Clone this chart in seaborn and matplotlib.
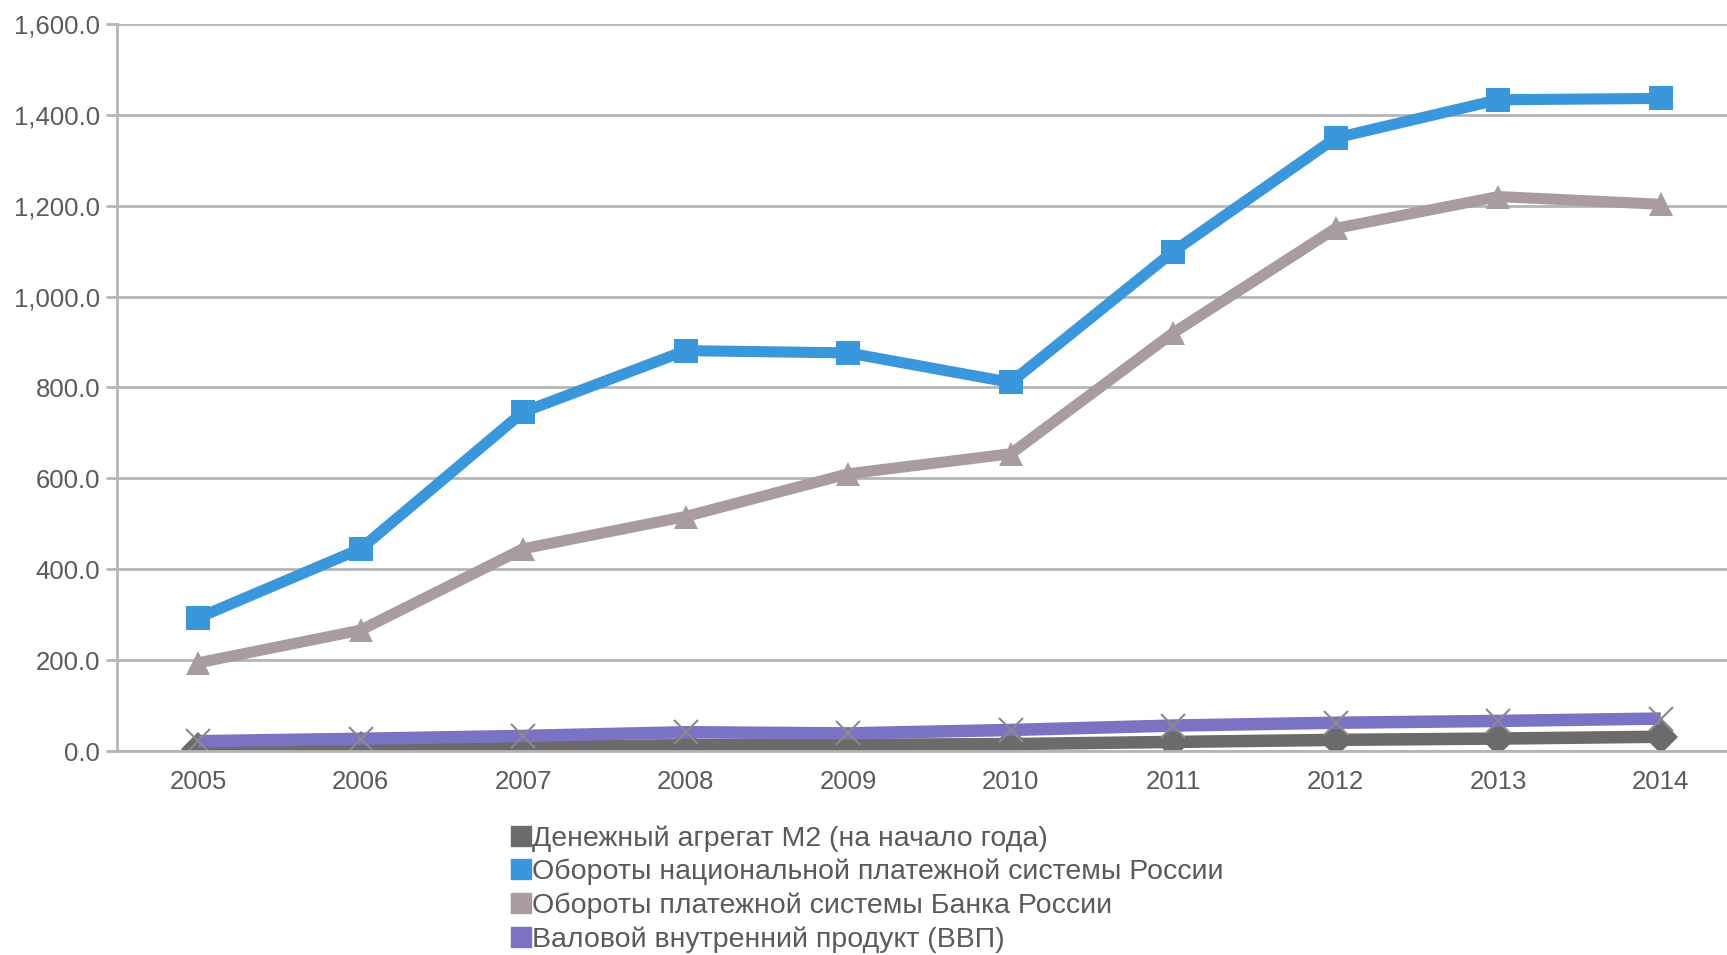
import numpy as np
import pandas as pd
import seaborn as sns
import matplotlib.pyplot as plt
from matplotlib.lines import Line2D

# data
years = ["2005", "2006", "2007", "2008", "2009", "2010", "2011", "2012", "2013", "2014"]
m2 = [4.4, 6.0, 9.0, 12.9, 13.5, 15.3, 20.0, 24.5, 27.4, 31.4]
nps = [293, 445, 746, 881, 876, 811, 1099, 1349, 1433, 1436]
cbr = [194, 266, 445, 516, 610, 654, 920, 1150, 1220, 1203]
gdp = [21.6, 26.9, 33.2, 41.3, 38.8, 46.3, 56.0, 62.2, 66.2, 71.4]

names = ["Денежный агрегат М2 (на начало года)",
         "Обороты национальной платежной системы России",
         "Обороты платежной системы Банка России",
         "Валовой внутренний продукт (ВВП)"]
colors = ["#6b6b6b", "#3a97dc", "#a89c9e", "#7a73c4"]
markers = ["D", "s", "^", "x"]
widths = [9, 8, 8, 9]

sns.set_style("white")
plt.rcParams['font.family'] = ['Liberation Sans', 'DejaVu Sans']
txt = "#5a5a5a"

fig = plt.figure(figsize=(17.27, 9.55), dpi=100)
ax = fig.add_axes([0.0677, 0.2136, 1.0087 - 0.0677, 0.975 - 0.2136])

for vals, name, c, m, lw in zip([m2, nps, cbr, gdp], names, colors, markers, widths):
    d = pd.DataFrame({"year": years, "v": vals})
    if m == "x":
        sns.lineplot(data=d, x="year", y="v", ax=ax, color=c, linewidth=lw,
                     marker=m, markersize=17, markeredgewidth=1.5,
                     markeredgecolor="#8a8a8a", solid_capstyle="butt")
    else:
        sns.lineplot(data=d, x="year", y="v", ax=ax, color=c, linewidth=lw,
                     marker=m, markersize=17, markeredgewidth=0,
                     solid_capstyle="butt")

ax.set_xlim(-0.5, 9.5)
ax.set_ylim(0, 1600)
ax.set_yticks(np.arange(0, 1601, 200))
ax.set_yticklabels([f"{v:,.1f}" for v in np.arange(0, 1601, 200)])
ax.yaxis.grid(True, color="#b5b5b5", linewidth=2)
ax.set_axisbelow(True)
ax.set_xlabel("")
ax.set_ylabel("")

ax.set_xticks(range(len(years)))
ax.set_xticklabels(years)
ax.set_xticks(np.arange(-0.5, 10, 1), minor=True)
ax.tick_params(axis="x", which="major", length=0, pad=14, labelsize=18.5, labelcolor=txt)
ax.tick_params(axis="x", which="minor", length=9, width=2, color="#b5b5b5")
ax.tick_params(axis="y", length=8, width=2, color="#b5b5b5", labelsize=18.5,
               labelcolor=txt, pad=4, left=True)

for s in ["top", "right"]:
    ax.spines[s].set_visible(False)
for s in ["left", "bottom"]:
    ax.spines[s].set_color("#b5b5b5")
    ax.spines[s].set_linewidth(2)

handles = [Line2D([], [], color=c, marker="s", linestyle="none", markersize=14)
           for c in colors]
fig.legend(handles, names, loc="upper left", bbox_to_anchor=(0.289, 0.151),
           frameon=False, fontsize=20.5, labelcolor=txt, handlelength=0.55,
           handletextpad=0.12, labelspacing=0.26, borderpad=0)

fig.savefig("out.png", dpi=100)
